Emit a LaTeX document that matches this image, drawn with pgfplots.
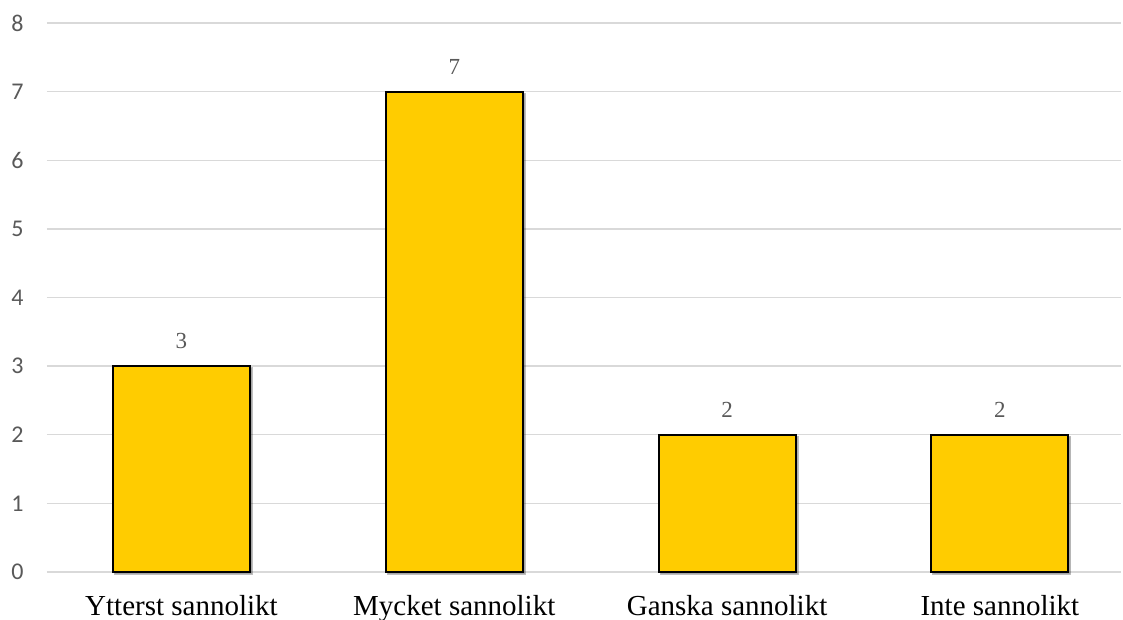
\documentclass[border=0pt]{standalone}
\usepackage{fontspec}
\setmainfont{Liberation Serif}
\newfontfamily\calibri{Carlito}
\usepackage{pgfplots}
\pgfplotsset{compat=1.18}
\usetikzlibrary{shadows}
\definecolor{gold}{HTML}{FFCC00}
\definecolor{gridc}{HTML}{D9D9D9}
\definecolor{tickc}{HTML}{595959}
\begin{document}
\begin{tikzpicture}
\begin{axis}[
  scale only axis, width=1074pt, height=549pt,
  xmin=-0.493, xmax=3.444, ymin=0, ymax=8,
  axis line style={draw=none},
  ytick={0,1,...,8}, ymajorgrids,
  grid style={gridc, line width=1.3pt},
  xtick={0,1,2,3},
  xticklabels={Ytterst sannolikt, Mycket sannolikt, Ganska sannolikt, Inte sannolikt},
  major tick length=0pt,
  /pgf/number format/assume math mode=true,
  yticklabel style={font=\calibri\fontsize{24}{26}\selectfont, text=tickc, xshift=-20pt},
  xticklabel style={font=\fontsize{29}{31}\selectfont, text=black, yshift=-20pt},
  clip=false,
]
\addplot[ybar, bar width=137pt, fill=gold, draw=black, line width=2pt,
  drop shadow={opacity=0.25, shadow xshift=2pt, shadow yshift=-2pt},
  nodes near coords,
  nodes near coords style={font=\fontsize{23}{25}\selectfont, text=tickc, anchor=south, yshift=13pt}]
  coordinates {(0,3) (1,7) (2,2) (3,2)};
\coordinate (sw) at (rel axis cs:0,0);
\coordinate (ne) at (rel axis cs:1,1);
\end{axis}
\pgfresetboundingbox
\path ([shift={(-47pt,-48pt)}]sw) rectangle ([shift={(2pt,23pt)}]ne);
\end{tikzpicture}
\end{document}
